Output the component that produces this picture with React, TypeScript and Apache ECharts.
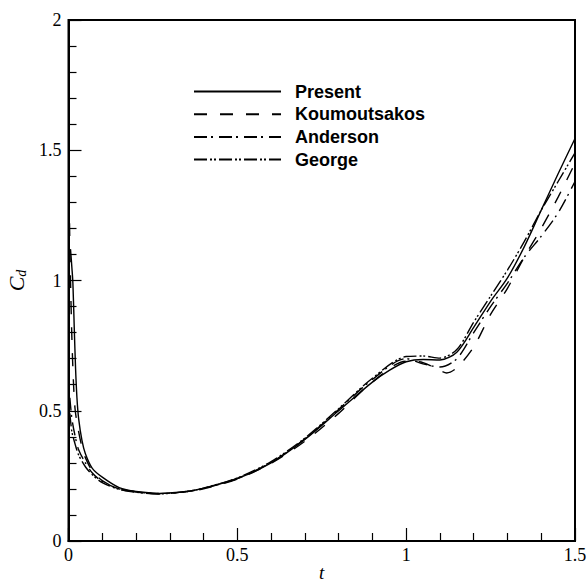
import React, { useEffect, useRef } from "react";
import * as echarts from "echarts";

const presentT = [0.006, 0.01, 0.013, 0.017, 0.021, 0.025, 0.03, 0.04, 0.05, 0.07, 0.1, 0.15, 0.2, 0.27, 0.35, 0.4, 0.5, 0.6, 0.7, 0.8, 0.9, 0.95, 1.0, 1.05, 1.1, 1.15, 1.2, 1.25, 1.3, 1.35, 1.4, 1.45, 1.5];
const presentCd = [1.12, 1.05, 0.99, 0.82, 0.66, 0.55, 0.47, 0.385, 0.335, 0.28, 0.245, 0.205, 0.19, 0.183, 0.19, 0.203, 0.24, 0.3, 0.39, 0.5, 0.61, 0.655, 0.688, 0.697, 0.695, 0.725, 0.82, 0.92, 1.01, 1.13, 1.27, 1.41, 1.545];

const koumT = [0.003, 0.006, 0.01, 0.015, 0.02, 0.03, 0.04, 0.05, 0.07, 0.1, 0.15, 0.2, 0.27, 0.35, 0.4, 0.5, 0.6, 0.7, 0.8, 0.9, 1.0, 1.05, 1.1, 1.12, 1.15, 1.2, 1.25, 1.3, 1.35, 1.4, 1.45, 1.5];
const koumCd = [1.22, 1.0, 0.78, 0.6, 0.5, 0.42, 0.36, 0.32, 0.27, 0.232, 0.2, 0.19, 0.18, 0.19, 0.2, 0.238, 0.298, 0.383, 0.49, 0.61, 0.69, 0.685, 0.655, 0.645, 0.665, 0.745, 0.87, 0.97, 1.09, 1.2, 1.32, 1.45];

const andT = [0.004, 0.01, 0.02, 0.03, 0.05, 0.07, 0.1, 0.15, 0.2, 0.27, 0.35, 0.4, 0.5, 0.6, 0.7, 0.8, 0.9, 1.0, 1.05, 1.1, 1.15, 1.2, 1.25, 1.3, 1.35, 1.4, 1.45, 1.5];
const andCd = [0.55, 0.47, 0.4, 0.35, 0.3, 0.262, 0.228, 0.2, 0.188, 0.182, 0.19, 0.202, 0.24, 0.302, 0.392, 0.505, 0.62, 0.7, 0.68, 0.668, 0.7, 0.8, 0.9, 0.99, 1.09, 1.17, 1.26, 1.38];

const georgeT = [0.004, 0.01, 0.02, 0.03, 0.05, 0.07, 0.1, 0.15, 0.2, 0.27, 0.35, 0.4, 0.5, 0.6, 0.7, 0.8, 0.9, 1.0, 1.05, 1.1, 1.15, 1.2, 1.25, 1.3, 1.35, 1.4, 1.45, 1.5];
const georgeCd = [0.49, 0.42, 0.37, 0.33, 0.285, 0.255, 0.224, 0.198, 0.187, 0.181, 0.19, 0.203, 0.242, 0.305, 0.395, 0.508, 0.625, 0.708, 0.71, 0.702, 0.735, 0.84, 0.94, 1.04, 1.15, 1.27, 1.38, 1.49];

const seriesNames = ["Present", "Koumoutsakos", "Anderson", "George"];

const zip = (xs: number[], ys: number[]) => xs.map((x, i) => [x, ys[i]]);

export default function App() {
  const ref = useRef<HTMLDivElement>(null);
  useEffect(() => {
    if (!ref.current) return;
    const chart = echarts.init(ref.current, null, { renderer: "svg" });
    const serif = "Liberation Serif";
    const mk = (name: string, data: number[][], type: any) => ({
      name,
      type: "line",
      data,
      showSymbol: false,
      symbol: "none",
      smooth: 0.3,
      lineStyle: { color: "#000", width: 1.4, type },
      itemStyle: { color: "#000" },
    });
    chart.setOption({
      animation: false,
      backgroundColor: "#fff",
      textStyle: { fontFamily: serif },
      grid: {
        left: 68.5,
        right: 12,
        top: 20,
        bottom: 42,
        outerBoundsMode: "none",
        containLabel: false,
        show: true,
        borderColor: "#000",
        borderWidth: 2,
      },
      legend: {
        orient: "vertical",
        left: 193,
        top: 82.5,
        padding: 0,
        itemWidth: 87,
        itemHeight: 18,
        itemGap: 4.7,
        data: seriesNames,
        itemStyle: { opacity: 0 },
        textStyle: {
          fontFamily: "Liberation Sans",
          fontWeight: "bold",
          fontSize: 18,
          color: "#000",
          lineHeight: 18,
          padding: [0, 0, 0, 9],
        },
      },
      xAxis: {
        type: "value",
        min: 0,
        max: 1.5,
        interval: 0.5,
        name: "t",
        nameLocation: "middle",
        nameGap: 22,
        nameMoveOverlap: false,
        nameTextStyle: { fontFamily: serif, fontStyle: "italic", fontSize: 19, color: "#000", lineHeight: 19 },
        axisLine: { show: true, lineStyle: { color: "#000", width: 2 } },
        axisTick: { show: true, inside: true, length: 13, lineStyle: { color: "#000", width: 1.2 } },
        minorTick: { show: true, splitNumber: 5, length: 8, lineStyle: { color: "#000", width: 1.2 } },
        splitLine: { show: false },
        axisLabel: {
          fontFamily: serif,
          fontSize: 18,
          color: "#000",
          margin: 5,
          formatter: (v: number) => String(v),
        },
      },
      yAxis: {
        type: "value",
        min: 0,
        max: 2,
        interval: 0.5,
        name: "{c|C}{d|d}",
        nameLocation: "middle",
        nameRotate: 90,
        nameGap: 40,
        nameTextStyle: {
          rich: {
            c: { fontFamily: serif, fontStyle: "italic", fontSize: 22, color: "#000" },
            d: { fontFamily: serif, fontStyle: "italic", fontSize: 14, color: "#000", verticalAlign: "bottom", padding: [10, 0, 0, 0] },
          },
        },
        axisLine: { show: true, lineStyle: { color: "#000", width: 2 } },
        axisTick: { show: true, inside: true, length: 13, lineStyle: { color: "#000", width: 1.2 } },
        minorTick: { show: true, splitNumber: 5, length: 8, lineStyle: { color: "#000", width: 1.2 } },
        splitLine: { show: false },
        axisLabel: {
          fontFamily: serif,
          fontSize: 18,
          color: "#000",
          margin: 7,
          formatter: (v: number) => String(v),
        },
      },
      series: [
        mk("Present", zip(presentT, presentCd), "solid"),
        mk("Koumoutsakos", zip(koumT, koumCd), [13, 13]),
        mk("Anderson", zip(andT, andCd), [13, 4, 2, 6]),
        mk("George", zip(georgeT, georgeCd), [13, 3, 2, 2, 2, 3]),
      ],
    });
    return () => chart.dispose();
  }, []);
  return (
    <div
      ref={ref}
      style={{ position: "absolute", left: 0, top: 0, width: 587, height: 583 }}
    />
  );
}
